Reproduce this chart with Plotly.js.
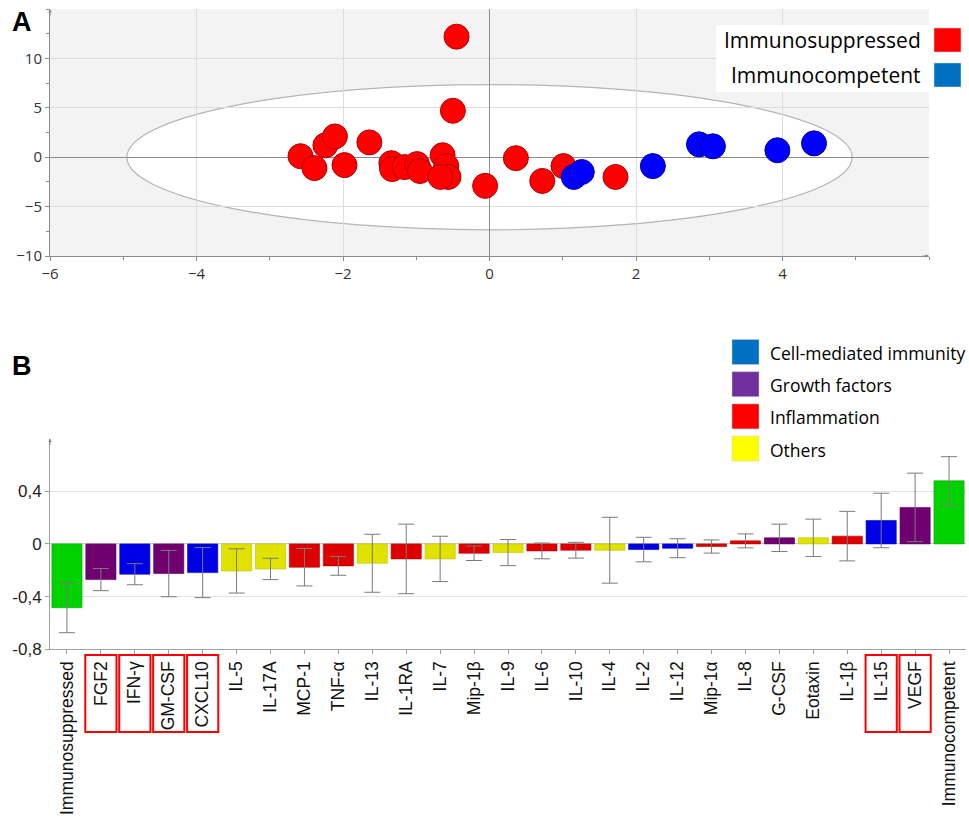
<!DOCTYPE html>
<html><head><meta charset="utf-8">
<script src="https://cdn.plot.ly/plotly-3.0.1.min.js"></script>
<style>html,body{margin:0;padding:0;background:#fff}#chart{width:969px;height:828px}</style>
</head><body><div id="chart"></div>
<script>
// ---- Panel A data (scores plot) ----
const suppX = [-0.45,-0.50,-2.58,-2.39,-2.24,-2.11,-1.98,-1.64,-1.34,-1.33,-1.16,-0.99,-0.95,-0.64,-0.59,-0.56,-0.67,-0.06,0.36,0.72,1.01,1.72];
const suppY = [12.2,4.7,0.1,-1.1,1.2,2.1,-0.8,1.5,-0.6,-1.2,-1.0,-0.7,-1.4,0.2,-0.9,-2.0,-2.0,-2.9,-0.1,-2.4,-0.9,-2.0];
const compX = [1.15,1.26,2.23,2.86,3.05,3.93,4.43];
const compY = [-2.0,-1.5,-0.9,1.3,1.1,0.7,1.4];
const ellipseA = 4.95, ellipseB = 7.35;
const groupNamesA = ['Immunosuppressed','Immunocompetent'];
const groupColorsA = ['#FF0000','#0070C0'];

// ---- Panel B data (loadings bar chart) ----
const categories = ['Immunosuppressed','FGF2','IFN-γ','GM-CSF','CXCL10','IL-5','IL-17A','MCP-1','TNF-α','IL-13','IL-1RA','IL-7','Mip-1β','IL-9','IL-6','IL-10','IL-4','IL-2','IL-12','Mip-1α','IL-8','G-CSF','Eotaxin','IL-1β','IL-15','VEGF','Immunocompetent'];
const values = [-0.484,-0.271,-0.230,-0.225,-0.218,-0.205,-0.190,-0.177,-0.167,-0.147,-0.114,-0.114,-0.071,-0.066,-0.053,-0.048,-0.048,-0.043,-0.033,-0.020,0.023,0.046,0.046,0.059,0.178,0.277,0.479];
const errors = [0.19,0.084,0.080,0.176,0.19,0.168,0.081,0.142,0.071,0.22,0.264,0.172,0.055,0.099,0.06,0.06,0.25,0.093,0.072,0.05,0.053,0.104,0.142,0.188,0.207,0.26,0.183];
const groups = ['Y','GF','CMI','GF','CMI','O','O','INF','INF','O','INF','O','INF','O','INF','INF','O','CMI','CMI','INF','INF','GF','O','INF','CMI','GF','Y'];
const highlighted = ['FGF2','IFN-γ','GM-CSF','CXCL10','IL-15','VEGF'];
const legendNamesB = ['Cell-mediated immunity','Growth factors','Inflammation','Others'];
const legendColorsB = ['#0070C0','#7030A0','#FF0000','#FFFF00'];
const yTickVals = [-0.8,-0.4,0,0.4];

const barColorMap = {Y:'#00D200', GF:'#700070', CMI:'#0000E6', INF:'#DE0000', O:'#E2E200'};
const barLineMap = {Y:'#00B000', GF:'#5a005a', CMI:'#0000B8', INF:'#B00000', O:'#C0C000'};

const W = 969, H = 828;
const px = x => x / W;
const py = y => 1 - y / H;

const traces = [
  {type:'scatter', mode:'markers', x:suppX, y:suppY, xaxis:'x', yaxis:'y', showlegend:false,
   marker:{size:25, color:'#FF0000', line:{color:'#B40000', width:1}}},
  {type:'scatter', mode:'markers', x:compX, y:compY, xaxis:'x', yaxis:'y', showlegend:false,
   marker:{size:25, color:'#0000FF', line:{color:'#0000A8', width:1}}},
  {type:'bar', x:categories, y:values, xaxis:'x2', yaxis:'y2', showlegend:false, width:0.89,
   marker:{color:groups.map(g=>barColorMap[g]), line:{color:groups.map(g=>barLineMap[g]), width:0.6}},
   error_y:{type:'data', array:errors, visible:true, color:'#7a7a7a', thickness:1, width:8}}
];

const shapes = [
  {type:'rect', xref:'x domain', yref:'y domain', x0:0, x1:1, y0:0, y1:1, fillcolor:'#F3F3F3', line:{width:0}, layer:'below'},
  {type:'circle', xref:'x', yref:'y', x0:-ellipseA, x1:ellipseA, y0:-ellipseB, y1:ellipseB, fillcolor:'#FFFFFF', line:{color:'#B4B4B4', width:1.2}, layer:'below'},
  // legend A box
  {type:'rect', xref:'paper', yref:'paper', x0:px(716), x1:px(929), y0:py(92), y1:py(25), fillcolor:'#FFFFFF', line:{width:0}}
];
const annotations = [
  {text:'<b>A</b>', xref:'paper', yref:'paper', x:px(22), y:py(22), xanchor:'center', yanchor:'middle', showarrow:false, font:{family:'Liberation Sans', size:27, color:'#000'}},
  {text:'<b>B</b>', xref:'paper', yref:'paper', x:px(22), y:py(366), xanchor:'center', yanchor:'middle', showarrow:false, font:{family:'Liberation Sans', size:27, color:'#000'}}
];
// legend A
groupNamesA.forEach((n,i)=>{
  const yc = 40 + i*35;
  shapes.push({type:'rect', xref:'paper', yref:'paper', x0:px(934), x1:px(961), y0:py(yc+12), y1:py(yc-12), fillcolor:groupColorsA[i], line:{color:'#ddd', width:0.5}});
  annotations.push({text:n, xref:'paper', yref:'paper', x:px(923), y:py(yc), xanchor:'right', yanchor:'middle', showarrow:false, font:{family:'Open Sans', size:21, color:'#000'}});
});
// legend B
legendNamesB.forEach((n,i)=>{
  const yc = 352 + i*32.2;
  shapes.push({type:'rect', xref:'paper', yref:'paper', x0:px(732), x1:px(759), y0:py(yc+12.5), y1:py(yc-12.5), fillcolor:legendColorsB[i], line:{color:'#ccc', width:0.5}});
  annotations.push({text:n, xref:'paper', yref:'paper', x:px(768), y:py(yc+1), xanchor:'left', yanchor:'middle', showarrow:false, font:{family:'Open Sans', size:17.5, color:'#000'}});
});
// highlight boxes
highlighted.forEach(h=>{
  const i = categories.indexOf(h);
  shapes.push({type:'rect', xref:'x2', yref:'paper', x0:i-0.46, x1:i+0.46, y0:py(732), y1:py(655), line:{color:'#FF0000', width:2}, fillcolor:'rgba(0,0,0,0)'});
});
// axis arrows
[[50,9,0,8],[929,256,-8,0],[50,438.5,0,8]].forEach(a=>{
  annotations.push({xref:'paper', yref:'paper', x:px(a[0]), y:py(a[1]), ax:a[2], ay:a[3], showarrow:true, arrowhead:2, arrowsize:0.7, arrowwidth:1, arrowcolor:'#8a8a8a', text:''});
});

const layout = {
  width:W, height:H, margin:{l:0,r:0,t:0,b:0}, paper_bgcolor:'#fff', plot_bgcolor:'rgba(0,0,0,0)',
  showlegend:false,
  xaxis:{domain:[px(50), px(929)], range:[-6,6], tickvals:[-6,-4,-2,0,2,4], showgrid:true, gridcolor:'#DDDDDD', gridwidth:1,
         zeroline:true, zerolinecolor:'#8C8C8C', zerolinewidth:1, showline:true, linecolor:'#8C8C8C', linewidth:1,
         ticks:'outside', ticklen:4, tickcolor:'#8C8C8C', minor:{dtick:1, ticks:'outside', ticklen:3, tickcolor:'#8C8C8C', showgrid:false},
         tickfont:{family:'Open Sans', size:15, color:'#333'}, fixedrange:true},
  yaxis:{domain:[py(256), py(9)], range:[-10,15], tickvals:[-10,-5,0,5,10], showgrid:true, gridcolor:'#DDDDDD', gridwidth:1,
         zeroline:true, zerolinecolor:'#8C8C8C', zerolinewidth:1, showline:true, linecolor:'#8C8C8C', linewidth:1,
         ticks:'outside', ticklen:4, tickcolor:'#8C8C8C', minor:{dtick:2.5, ticks:'outside', ticklen:3, tickcolor:'#8C8C8C', showgrid:false},
         tickfont:{family:'Open Sans', size:15, color:'#333'}, fixedrange:true},
  xaxis2:{domain:[px(50), px(966)], anchor:'y2', type:'category', range:[-0.5,26.5], tickangle:-90,
          tickvals:categories, ticktext:categories, showgrid:false, zeroline:false, showline:true, linecolor:'#A0A0A0', linewidth:1,
          ticks:'outside', ticklen:4, tickcolor:'#A0A0A0', tickfont:{family:'Liberation Sans', size:17.5, color:'#111'}},
  yaxis2:{domain:[py(649.3), py(438.5)], anchor:'x2', range:[-0.8,0.8], tickvals:yTickVals, ticktext:yTickVals.map(v=>String(v).replace('.',',')),
          showgrid:true, gridcolor:'#E2E2E2', zeroline:true, zerolinecolor:'#CCCCCC', zerolinewidth:1, showline:true, linecolor:'#A0A0A0', linewidth:1,
          ticks:'outside', ticklen:4, tickcolor:'#A0A0A0', tickfont:{family:'Liberation Sans', size:17, color:'#222'}},
  shapes:shapes, annotations:annotations, bargap:0.11
};
Plotly.newPlot('chart', traces, layout, {staticPlot:true, displayModeBar:false});
</script></body></html>
